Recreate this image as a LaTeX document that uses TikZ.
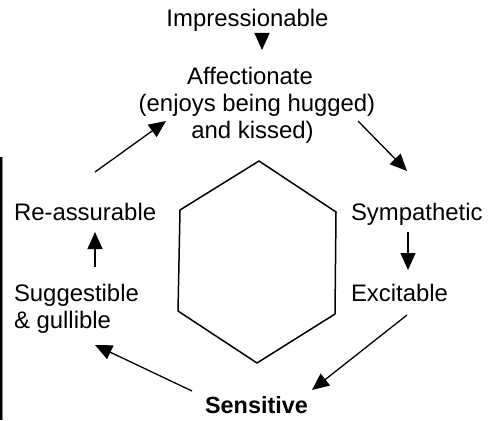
\documentclass[tikz,border=0pt]{standalone}
\usepackage{fontspec}
\setmainfont{Liberation Sans}
\usetikzlibrary{arrows.meta}
\begin{document}
\begin{tikzpicture}[x=1pt,y=-1pt,
  lbl/.style={inner sep=0pt,outer sep=0pt,font=\fontsize{23.9}{27}\selectfont},
  conn/.style={line width=1.3pt,-{Triangle[length=17pt,width=15pt]}},
  hexline/.style={line width=1.5pt,line join=round}]
\useasboundingbox (0,0) rectangle (494,420);
% left edge bar
\draw[line width=2.2pt] (1.1,157) -- (1.1,420);
\draw[line width=0.8pt,black!45] (2.8,157) -- (2.8,420);
% labels
\node[lbl,anchor=base] (imp) at (247.5,27) {Impressionable};
\node[lbl,anchor=base] (aff1) at (250,84) {Affectionate};
\node[lbl,anchor=base] (aff2) at (257,111) {(enjoys being hugged)};
\node[lbl,anchor=base] (aff3) at (252.5,138) {and kissed)};
\node[lbl,anchor=base west] (reas) at (14,220) {Re-assurable};
\node[lbl,anchor=base west] (symp) at (351,220) {Sympathetic};
\node[lbl,anchor=base west] (sugg1) at (14,301) {Suggestible};
\node[lbl,anchor=base west] (sugg2) at (14,328) {\& gullible};
\node[lbl,anchor=base west] (exc) at (351,301) {Excitable};
\node[lbl,anchor=base,font=\fontsize{23.4}{27}\selectfont\bfseries] (sens) at (256.5,413) {Sensitive};
% connector end points
\coordinate (impA) at (262,33);
\coordinate (affT) at (262,50);
\coordinate (reasA) at (95,172);
\coordinate (affL) at (166,121);
\coordinate (affR) at (358,121);
\coordinate (sympT) at (407,171);
\coordinate (sympB) at (408,232);
\coordinate (excT) at (408,270);
\coordinate (excB) at (407,315);
\coordinate (sensR) at (312,390);
\coordinate (sensL) at (192,391);
\coordinate (suggT) at (95,345);
\coordinate (suggU) at (95,267);
\coordinate (reasB) at (95,232);
% connectors
\draw[conn] (impA) -- (affT);
\draw[conn] (reasA) -- (affL);
\draw[conn] (affR) -- (sympT);
\draw[conn] (sympB) -- (excT);
\draw[conn] (excB) -- (sensR);
\draw[conn] (sensL) -- (suggT);
\draw[conn] (suggU) -- (reasB);
% hexagon
\draw[hexline] (259,161) -- (336,212) -- (335,314) -- (257,363) -- (178,311) -- (180,210) -- cycle;
\end{tikzpicture}
\end{document}
